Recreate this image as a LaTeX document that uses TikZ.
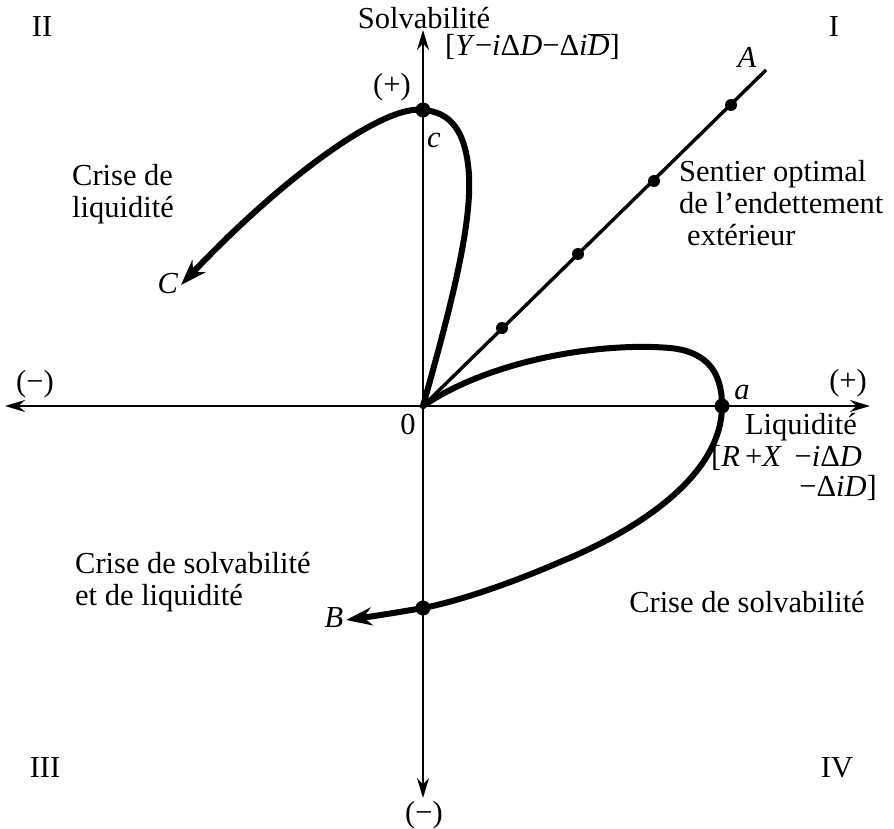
\documentclass[tikz,border=0pt]{standalone}
\usepackage{fontspec}
\setmainfont{Liberation Serif}
\usetikzlibrary{arrows.meta}
\begin{document}
\begin{tikzpicture}[x=1pt,y=-1pt,
  lbl/.style={inner sep=0pt,font=\fontsize{30.5}{32}\selectfont},
  axis/.style={line width=2.3pt,-{Stealth[length=20pt,width=12pt]}},
  curve/.style={line width=6pt,line cap=round},
  carrow/.style={curve,line cap=butt,-{Stealth[length=26pt,width=18pt]}},
  bigdot/.style={circle,fill=black,inner sep=0pt,minimum size=15pt},
  smalldot/.style={circle,fill=black,inner sep=0pt,minimum size=12pt}]
\useasboundingbox (0,0) rectangle (894,829);
% axes
\coordinate (O) at (423,406);
\coordinate (L) at (5,406);
\coordinate (R) at (870,406);
\coordinate (T) at (423,30);
\coordinate (Bt) at (423,798);
\draw[axis] (O) -- (L);
\draw[axis] (O) -- (R);
\draw[axis] (O) -- (T);
\draw[axis] (O) -- (Bt);
% optimal path
\coordinate (Aend) at (766,70);
\draw[line width=3.4pt] (O) -- (Aend);
\node[smalldot] (d1) at (502,328) {};
\node[smalldot] (d2) at (578,254) {};
\node[smalldot] (d3) at (654,181) {};
\node[smalldot] (d4) at (731,105) {};
% upper loop
\coordinate (c) at (423,110);
\coordinate (Ctip) at (181,285);
\draw[curve] (O) .. controls (447,320) and (472,230) .. (469,175)
  .. controls (466,130) and (450,112) .. (c);
\draw[carrow] (c) .. controls (385,104) and (285,175) .. (Ctip);
% lower loop
\coordinate (a) at (722,406);
\coordinate (bpt) at (423,608);
\coordinate (Btip) at (346,620);
\draw[curve] (O) .. controls (490,360) and (600,342) .. (670,348)
  .. controls (712,352) and (722,378) .. (a)
  .. controls (722,470) and (650,525) .. (560,562)
  .. controls (500,588) and (450,603) .. (bpt);
\draw[carrow] (bpt) .. controls (400,612) and (375,616) .. (Btip);
\node[bigdot] (cdot) at (c) {};
\node[bigdot] (adot) at (a) {};
\node[bigdot] (bdot) at (bpt) {};
% labels
\node[lbl] (solv) at (424,18) {Solvabilité};
\node[lbl,anchor=west] (solvf) at (445,47) {[\textit{Y}−\textit{i}Δ\textit{D}−Δ\textit{i}$\overline{\hbox{\itshape D}}$]};
\node[lbl] (ptop) at (392,87) {(+)};
\node[lbl] (lc) at (434,140) {\textit{c}};
\node[lbl] (q2) at (42,27) {II};
\node[lbl] (q1) at (834,27) {I};
\node[lbl] (q3) at (45,768) {III};
\node[lbl] (q4) at (837,768) {IV};
\node[lbl] (pleft) at (35,384) {(−)};
\node[lbl] (pright) at (848,383) {(+)};
\node[lbl] (la) at (742,392) {\textit{a}};
\node[lbl] (liq) at (801,427) {Liquidité};
\node[lbl,anchor=west] (liqf1) at (711,458) {[\textit{R}\,+\textit{X}\, −\textit{i}Δ\textit{D}};
\node[lbl,anchor=east] (liqf2) at (877,488) {−Δ\textit{i}\textit{D}]};
\node[lbl] (zero) at (408,425) {0};
\node[lbl] (pbot) at (424,815) {(−)};
\node[lbl] (lA) at (747,57) {\textit{A}};
\node[lbl] (lC) at (168,284) {\textit{C}};
\node[lbl] (lB) at (334,618) {\textit{B}};
\node[lbl,anchor=west,align=left] (sent) at (679,203) {Sentier optimal\\de l’endettement\\\hspace*{8pt}extérieur};
\node[lbl,anchor=west,align=left] (cl) at (72,194) {Crise de\\liquidité};
\node[lbl,anchor=west,align=left] (csl) at (75,582) {Crise de solvabilité\\et de liquidité};
\node[lbl] (cs) at (747,602) {Crise de solvabilité};
\end{tikzpicture}
\end{document}
